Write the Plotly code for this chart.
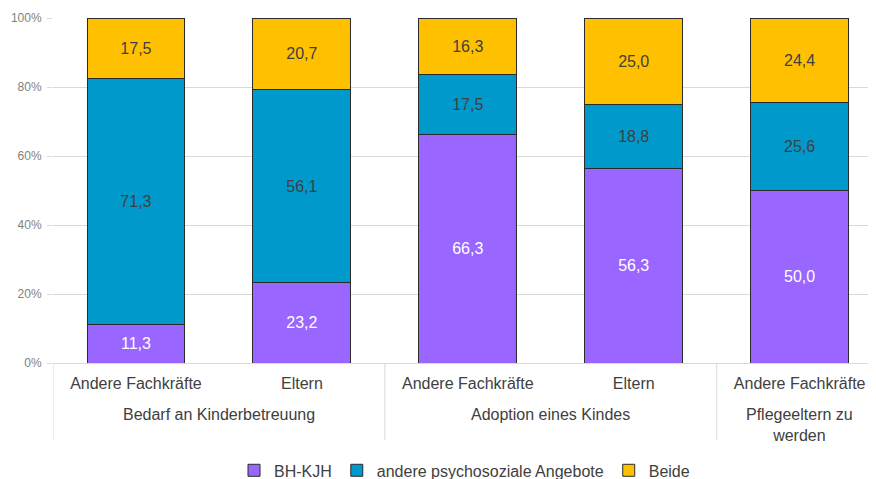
import plotly.graph_objects as go

groups = ["Bedarf an Kinderbetreuung", "Bedarf an Kinderbetreuung",
          "Adoption eines Kindes", "Adoption eines Kindes",
          "Pflegeeltern zu<br>werden"]
subs = ["Andere Fachkräfte", "Eltern", "Andere Fachkräfte", "Eltern", "Andere Fachkräfte"]

bh_kjh = [11.3, 23.2, 66.3, 56.3, 50.0]
andere = [71.3, 56.1, 17.5, 18.8, 25.6]
beide = [17.5, 20.7, 16.3, 25.0, 24.4]

series = [
    ("BH-KJH", bh_kjh, "#9966FF", "white"),
    ("andere psychosoziale Angebote", andere, "#0099CC", "#404040"),
    ("Beide", beide, "#FFC000", "#404040"),
]

FONT = "Liberation Sans, Arial"
xs = list(range(len(subs)))

fig = go.Figure()
for name, vals, color, tcol in series:
    fig.add_trace(go.Bar(
        x=xs, y=vals, name=name,
        marker=dict(color=color, line=dict(color="#2b2b2b", width=1)),
        texttemplate="%{y:.1f}", textposition="inside",
        insidetextanchor="middle",
        textfont=dict(color=tcol, size=16, family=FONT),
        width=0.59,
    ))

# group spans, dividers and group labels derived from the category lists
spans = []
for i, g in enumerate(groups):
    if spans and spans[-1][0] == g:
        spans[-1][2] = i
    else:
        spans.append([g, i, i])

PH = 345  # plot height in px
div_depth = -77 / PH
for g, a, b in spans:
    fig.add_shape(type="line", xref="x", yref="paper", x0=a - 0.5, x1=a - 0.5,
                  y0=0, y1=div_depth, line=dict(color="#d9d9d9", width=1))
    fig.add_annotation(x=(a + b) / 2, xref="x", y=-41 / PH, yref="paper",
                       yanchor="top", xanchor="center", text=g, showarrow=False,
                       font=dict(size=16, color="#404040", family=FONT))
fig.add_shape(type="line", xref="x", yref="paper", x0=len(subs) - 0.5, x1=len(subs) - 0.5,
              y0=0, y1=div_depth, line=dict(color="#d9d9d9", width=1))

fig.update_layout(
    barmode="stack", barnorm="percent",
    separators=",.",
    width=868, height=471,
    margin=dict(l=45, r=0, t=10, b=116, autoexpand=False),
    plot_bgcolor="white", paper_bgcolor="white",
    font=dict(family=FONT, color="#404040"),
    showlegend=True,
    legend=dict(orientation="h", x=0.5, xanchor="center", y=-0.262, yanchor="top",
                font=dict(size=16, color="#404040"), traceorder="normal"),
)
fig.update_yaxes(range=[0, 100], dtick=20, ticksuffix="%", showgrid=True,
                 gridcolor="#d9d9d9", zeroline=False, automargin=False,
                 ticks="outside", ticklen=5, tickcolor="#d9d9d9",
                 ticklabelstandoff=3,
                 tickfont=dict(size=12, color="#7f7f7f"), showline=False)
fig.update_xaxes(range=[-0.5, 4.46], showline=True, linecolor="#d9d9d9",
                 tickvals=xs, ticktext=subs, showgrid=False, automargin=False,
                 tickfont=dict(size=16, color="#404040"), ticks="",
                 ticklabelstandoff=6)

fig.write_html("out.html")
